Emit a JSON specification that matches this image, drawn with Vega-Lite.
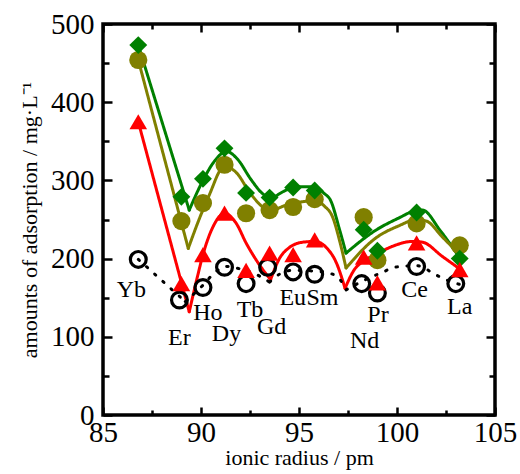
{
  "$schema": "https://vega.github.io/schema/vega-lite/v6.json",
  "autosize": "none",
  "padding": {"left": 103, "top": 24, "right": 25, "bottom": 59},
  "width": 392,
  "height": 391,
  "config": {
    "view": {"stroke": "black", "strokeWidth": 3.5},
    "axis": {"domain": false, "grid": false, "tickColor": "black", "tickWidth": 2.5, "labelOverlap": false, "labelFlush": false, "labelBound": false}
  },
  "datasets": {
    "pts": [
      {"el": "Yb", "r": 86.8, "s": "G", "v": 473}, {"el": "Er", "r": 89.0, "s": "G", "v": 279}, {"el": "Ho", "r": 90.1, "s": "G", "v": 302}, {"el": "Dy", "r": 91.2, "s": "G", "v": 341}, {"el": "Tb", "r": 92.3, "s": "G", "v": 284}, {"el": "Gd", "r": 93.5, "s": "G", "v": 278}, {"el": "Eu", "r": 94.7, "s": "G", "v": 291}, {"el": "Sm", "r": 95.8, "s": "G", "v": 287}, {"el": "Nd", "r": 98.3, "s": "G", "v": 237}, {"el": "Pr", "r": 99.0, "s": "G", "v": 210}, {"el": "Ce", "r": 101.0, "s": "G", "v": 259}, {"el": "La", "r": 103.2, "s": "G", "v": 200},
      {"el": "Yb", "r": 86.8, "s": "O", "v": 454}, {"el": "Er", "r": 89.0, "s": "O", "v": 248}, {"el": "Ho", "r": 90.1, "s": "O", "v": 271}, {"el": "Dy", "r": 91.2, "s": "O", "v": 320}, {"el": "Tb", "r": 92.3, "s": "O", "v": 258}, {"el": "Gd", "r": 93.5, "s": "O", "v": 262}, {"el": "Eu", "r": 94.7, "s": "O", "v": 266}, {"el": "Sm", "r": 95.8, "s": "O", "v": 276}, {"el": "Nd", "r": 98.3, "s": "O", "v": 253}, {"el": "Pr", "r": 99.0, "s": "O", "v": 198}, {"el": "Ce", "r": 101.0, "s": "O", "v": 245}, {"el": "La", "r": 103.2, "s": "O", "v": 217},
      {"el": "Yb", "r": 86.8, "s": "R", "v": 375}, {"el": "Er", "r": 89.0, "s": "R", "v": 168}, {"el": "Ho", "r": 90.1, "s": "R", "v": 205}, {"el": "Dy", "r": 91.2, "s": "R", "v": 258}, {"el": "Tb", "r": 92.3, "s": "R", "v": 185}, {"el": "Gd", "r": 93.5, "s": "R", "v": 207}, {"el": "Eu", "r": 94.7, "s": "R", "v": 205}, {"el": "Sm", "r": 95.8, "s": "R", "v": 224}, {"el": "Nd", "r": 98.3, "s": "R", "v": 202}, {"el": "Pr", "r": 99.0, "s": "R", "v": 169}, {"el": "Ce", "r": 101.0, "s": "R", "v": 220}, {"el": "La", "r": 103.2, "s": "R", "v": 186},
      {"el": "Yb", "r": 86.8, "s": "K", "v": 199}, {"el": "Er", "r": 88.9, "s": "K", "v": 147}, {"el": "Ho", "r": 90.1, "s": "K", "v": 163}, {"el": "Dy", "r": 91.2, "s": "K", "v": 189}, {"el": "Tb", "r": 92.3, "s": "K", "v": 168}, {"el": "Gd", "r": 93.4, "s": "K", "v": 189}, {"el": "Eu", "r": 94.7, "s": "K", "v": 183}, {"el": "Sm", "r": 95.8, "s": "K", "v": 180}, {"el": "Nd", "r": 98.2, "s": "K", "v": 168}, {"el": "Pr", "r": 99.0, "s": "K", "v": 156}, {"el": "Ce", "r": 101.0, "s": "K", "v": 190}, {"el": "La", "r": 103.0, "s": "K", "v": 168}
    ],
    "curves": [
      {"s": "G", "arc": "A", "r": 86.8, "v": 473}, {"s": "G", "arc": "A", "r": 89.4, "v": 262},
      {"s": "G", "arc": "B", "r": 89.4, "v": 262}, {"s": "G", "arc": "B", "r": 90.1, "v": 300}, {"s": "G", "arc": "B", "r": 90.7, "v": 325}, {"s": "G", "arc": "B", "r": 91.3, "v": 337}, {"s": "G", "arc": "B", "r": 91.9, "v": 326}, {"s": "G", "arc": "B", "r": 92.5, "v": 303}, {"s": "G", "arc": "B", "r": 93.1, "v": 284}, {"s": "G", "arc": "B", "r": 93.6, "v": 276},
      {"s": "G", "arc": "C", "r": 93.6, "v": 276}, {"s": "G", "arc": "C", "r": 94.3, "v": 287}, {"s": "G", "arc": "C", "r": 95.0, "v": 292}, {"s": "G", "arc": "C", "r": 95.7, "v": 292}, {"s": "G", "arc": "C", "r": 96.3, "v": 283}, {"s": "G", "arc": "C", "r": 96.6, "v": 275}, {"s": "G", "arc": "C", "r": 97.07, "v": 237}, {"s": "G", "arc": "C", "r": 97.4, "v": 207},
      {"s": "G", "arc": "D", "r": 97.4, "v": 207}, {"s": "G", "arc": "D", "r": 98.9, "v": 236}, {"s": "G", "arc": "D", "r": 100.1, "v": 252}, {"s": "G", "arc": "D", "r": 100.9, "v": 261}, {"s": "G", "arc": "D", "r": 101.3, "v": 262}, {"s": "G", "arc": "D", "r": 102.2, "v": 236}, {"s": "G", "arc": "D", "r": 103.2, "v": 201},
      {"s": "O", "arc": "A", "r": 86.8, "v": 454}, {"s": "O", "arc": "A", "r": 89.35, "v": 213},
      {"s": "O", "arc": "B", "r": 89.35, "v": 213}, {"s": "O", "arc": "B", "r": 89.9, "v": 250}, {"s": "O", "arc": "B", "r": 90.4, "v": 280}, {"s": "O", "arc": "B", "r": 91.2, "v": 318}, {"s": "O", "arc": "B", "r": 91.8, "v": 310}, {"s": "O", "arc": "B", "r": 92.5, "v": 284}, {"s": "O", "arc": "B", "r": 93.1, "v": 267}, {"s": "O", "arc": "B", "r": 93.6, "v": 260},
      {"s": "O", "arc": "C", "r": 93.6, "v": 260}, {"s": "O", "arc": "C", "r": 94.3, "v": 268}, {"s": "O", "arc": "C", "r": 95.0, "v": 272}, {"s": "O", "arc": "C", "r": 95.8, "v": 274}, {"s": "O", "arc": "C", "r": 96.3, "v": 267}, {"s": "O", "arc": "C", "r": 96.7, "v": 254}, {"s": "O", "arc": "C", "r": 97.1, "v": 220}, {"s": "O", "arc": "C", "r": 97.4, "v": 188},
      {"s": "O", "arc": "D", "r": 97.4, "v": 188}, {"s": "O", "arc": "D", "r": 98.9, "v": 226}, {"s": "O", "arc": "D", "r": 100.1, "v": 242}, {"s": "O", "arc": "D", "r": 101.0, "v": 250}, {"s": "O", "arc": "D", "r": 101.5, "v": 248}, {"s": "O", "arc": "D", "r": 102.3, "v": 228}, {"s": "O", "arc": "D", "r": 103.2, "v": 205},
      {"s": "R", "arc": "A", "r": 86.8, "v": 375}, {"s": "R", "arc": "A", "r": 89.4, "v": 132},
      {"s": "R", "arc": "B", "r": 89.4, "v": 132}, {"s": "R", "arc": "B", "r": 89.8, "v": 175}, {"s": "R", "arc": "B", "r": 90.1, "v": 205}, {"s": "R", "arc": "B", "r": 90.6, "v": 240}, {"s": "R", "arc": "B", "r": 91.2, "v": 258}, {"s": "R", "arc": "B", "r": 91.8, "v": 245}, {"s": "R", "arc": "B", "r": 92.3, "v": 220}, {"s": "R", "arc": "B", "r": 92.9, "v": 195}, {"s": "R", "arc": "B", "r": 93.55, "v": 173},
      {"s": "R", "arc": "C", "r": 93.55, "v": 173}, {"s": "R", "arc": "C", "r": 94.0, "v": 200}, {"s": "R", "arc": "C", "r": 94.5, "v": 214}, {"s": "R", "arc": "C", "r": 95.2, "v": 221}, {"s": "R", "arc": "C", "r": 95.8, "v": 222}, {"s": "R", "arc": "C", "r": 96.4, "v": 214}, {"s": "R", "arc": "C", "r": 96.9, "v": 195}, {"s": "R", "arc": "C", "r": 97.35, "v": 162},
      {"s": "R", "arc": "D", "r": 97.35, "v": 162}, {"s": "R", "arc": "D", "r": 97.8, "v": 185}, {"s": "R", "arc": "D", "r": 98.3, "v": 197}, {"s": "R", "arc": "D", "r": 98.9, "v": 205}, {"s": "R", "arc": "D", "r": 99.8, "v": 216}, {"s": "R", "arc": "D", "r": 100.8, "v": 222}, {"s": "R", "arc": "D", "r": 101.3, "v": 221}, {"s": "R", "arc": "D", "r": 102.3, "v": 203}, {"s": "R", "arc": "D", "r": 103.3, "v": 185},
      {"s": "K", "arc": "A", "r": 86.8, "v": 199}, {"s": "K", "arc": "A", "r": 89.2, "v": 145},
      {"s": "K", "arc": "B", "r": 89.2, "v": 145}, {"s": "K", "arc": "B", "r": 90.1, "v": 166}, {"s": "K", "arc": "B", "r": 90.7, "v": 182}, {"s": "K", "arc": "B", "r": 91.3, "v": 190}, {"s": "K", "arc": "B", "r": 92.1, "v": 186}, {"s": "K", "arc": "B", "r": 92.8, "v": 180}, {"s": "K", "arc": "B", "r": 93.5, "v": 170},
      {"s": "K", "arc": "C", "r": 93.5, "v": 170}, {"s": "K", "arc": "C", "r": 94.0, "v": 180}, {"s": "K", "arc": "C", "r": 94.7, "v": 185}, {"s": "K", "arc": "C", "r": 95.8, "v": 184}, {"s": "K", "arc": "C", "r": 96.6, "v": 181}, {"s": "K", "arc": "C", "r": 97.1, "v": 173}, {"s": "K", "arc": "C", "r": 97.4, "v": 160},
      {"s": "K", "arc": "D", "r": 97.4, "v": 160}, {"s": "K", "arc": "D", "r": 98.3, "v": 172}, {"s": "K", "arc": "D", "r": 99.3, "v": 183}, {"s": "K", "arc": "D", "r": 99.9, "v": 189}, {"s": "K", "arc": "D", "r": 101.0, "v": 191}, {"s": "K", "arc": "D", "r": 102.0, "v": 179}, {"s": "K", "arc": "D", "r": 102.5, "v": 173}, {"s": "K", "arc": "D", "r": 103.2, "v": 167}
    ],
    "labels": [
      {"el": "Yb", "r": 86.45, "v": 160}, {"el": "Er", "r": 88.9, "v": 98}, {"el": "Ho", "r": 90.35, "v": 130}, {"el": "Dy", "r": 91.3, "v": 104}, {"el": "Tb", "r": 92.5, "v": 134}, {"el": "Gd", "r": 93.6, "v": 113}, {"el": "Eu", "r": 94.68, "v": 149}, {"el": "Sm", "r": 96.2, "v": 149}, {"el": "Nd", "r": 98.35, "v": 94}, {"el": "Pr", "r": 99.03, "v": 128}, {"el": "Ce", "r": 100.9, "v": 160}, {"el": "La", "r": 103.2, "v": 138}
    ]
  },
  "layer": [
    {
      "data": {"name": "curves"},
      "mark": {"type": "line", "interpolate": "monotone", "strokeCap": "round"},
      "encoding": {
        "x": {"field": "r", "type": "quantitative", "scale": {"domain": [85, 105], "nice": false, "zero": false},
              "axis": {"orient": "bottom", "values": [85, 90, 95, 100, 105], "tickSize": -8, "labelPadding": 11,
                       "labelFont": "Liberation Serif", "labelFontSize": 29, "labelColor": "black",
                       "title": "ionic radius / pm", "titlePadding": 0, "titleFont": "Liberation Serif", "titleFontSize": 22, "titleFontWeight": "normal", "titleColor": "black"}},
        "y": {"field": "v", "type": "quantitative", "scale": {"domain": [0, 500], "nice": false, "zero": false},
              "axis": {"orient": "left", "values": [0, 100, 200, 300, 400, 500], "tickSize": -9, "labelPadding": 18,
                       "labelFont": "Liberation Serif", "labelFontSize": 29, "labelColor": "black",
                       "title": "amounts of adsorption / mg·L⁻¹", "titlePadding": 9, "titleFont": "Liberation Serif", "titleFontSize": 22, "titleFontWeight": "normal", "titleColor": "black"}},
        "color": {"field": "s", "type": "nominal", "legend": null, "scale": {"domain": ["G", "O", "R", "K"], "range": ["#008000", "#808000", "#ff0000", "#000000"]}},
        "strokeDash": {"field": "s", "type": "nominal", "legend": null, "scale": {"domain": ["G", "O", "R", "K"], "range": [[1, 0], [1, 0], [1, 0], [1.5, 9.5]]}},
        "strokeWidth": {"field": "s", "type": "nominal", "legend": null, "scale": {"domain": ["G", "O", "R", "K"], "range": [3, 3, 3, 4]}},
        "detail": {"field": "arc"}
      }
    },
    {
      "data": {"name": "pts"},
      "transform": [{"filter": "datum.s == 'K'"}],
      "mark": {"type": "point", "shape": "circle", "filled": false, "stroke": "black", "strokeWidth": 3.2, "size": 250, "opacity": 1},
      "encoding": {
        "x": {"field": "r", "type": "quantitative", "scale": {"domain": [85, 105], "nice": false, "zero": false},
              "axis": {"orient": "top", "values": [85, 90, 95, 100, 105], "tickSize": -8, "labels": false, "title": null}},
        "y": {"field": "v", "type": "quantitative", "scale": {"domain": [0, 500], "nice": false, "zero": false},
              "axis": {"orient": "right", "values": [0, 100, 200, 300, 400, 500], "tickSize": -9, "labels": false, "title": null}}
      }
    },
    {
      "data": {"name": "pts"},
      "transform": [{"filter": "datum.s == 'O'"}],
      "mark": {"type": "point", "shape": "circle", "filled": true, "color": "#808000", "size": 330, "opacity": 1},
      "encoding": {
        "x": {"field": "r", "type": "quantitative", "scale": {"domain": [85, 105], "nice": false, "zero": false},
              "axis": {"orient": "bottom", "values": [87.5, 92.5, 97.5, 102.5], "tickSize": -5, "labels": false, "title": null}},
        "y": {"field": "v", "type": "quantitative", "scale": {"domain": [0, 500], "nice": false, "zero": false},
              "axis": {"orient": "left", "values": [50, 150, 250, 350, 450], "tickSize": -6, "labels": false, "title": null}}
      }
    },
    {
      "data": {"name": "pts"},
      "transform": [{"filter": "datum.s == 'G'"}],
      "mark": {"type": "point", "shape": "diamond", "filled": true, "color": "#008000", "size": 320, "opacity": 1},
      "encoding": {
        "x": {"field": "r", "type": "quantitative", "scale": {"domain": [85, 105], "nice": false, "zero": false},
              "axis": {"orient": "top", "values": [87.5, 92.5, 97.5, 102.5], "tickSize": -5, "labels": false, "title": null}},
        "y": {"field": "v", "type": "quantitative", "scale": {"domain": [0, 500], "nice": false, "zero": false},
              "axis": {"orient": "right", "values": [50, 150, 250, 350, 450], "tickSize": -6, "labels": false, "title": null}}
      }
    },
    {
      "data": {"name": "pts"},
      "transform": [{"filter": "datum.s == 'R'"}],
      "mark": {"type": "point", "shape": "triangle-up", "filled": true, "color": "#ff0000", "size": 310, "opacity": 1},
      "encoding": {
        "x": {"field": "r", "type": "quantitative", "axis": null},
        "y": {"field": "v", "type": "quantitative", "axis": null}
      }
    },
    {
      "data": {"name": "labels"},
      "mark": {"type": "text", "font": "Liberation Serif", "fontSize": 24, "color": "black", "align": "center", "baseline": "middle"},
      "encoding": {
        "x": {"field": "r", "type": "quantitative", "axis": null},
        "y": {"field": "v", "type": "quantitative", "axis": null},
        "text": {"field": "el"}
      }
    }
  ],
  "resolve": {"axis": {"x": "independent", "y": "independent"}}
}
